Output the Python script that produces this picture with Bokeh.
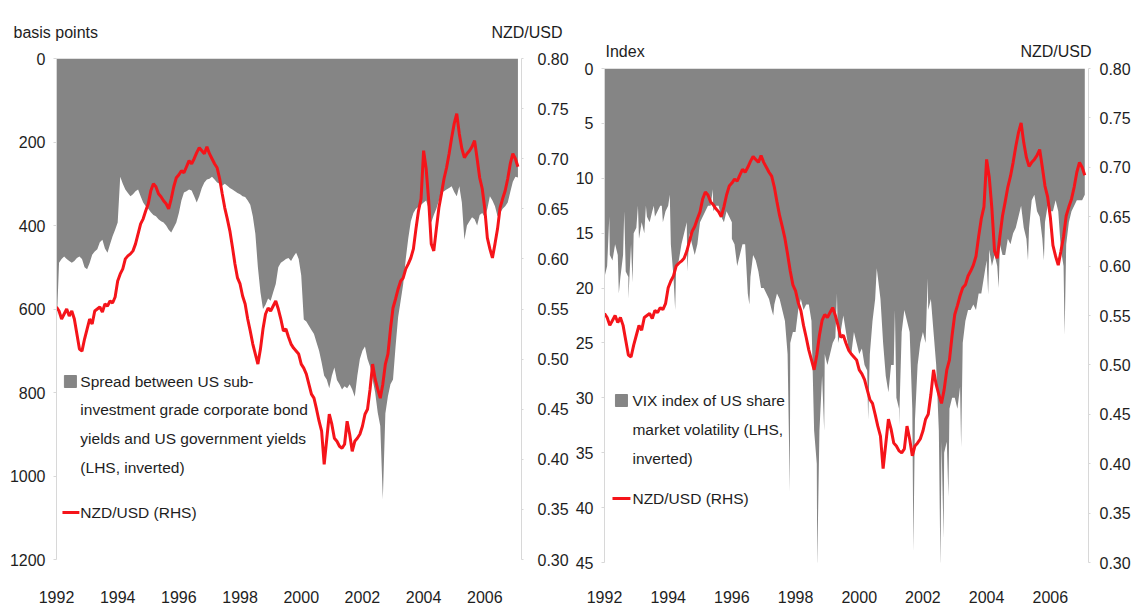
from bokeh.plotting import figure
from bokeh.models import Range1d, LinearAxis, FixedTicker, NumeralTickFormatter, Label, ColumnDataSource
from bokeh.layouts import row, column
from bokeh.core.properties import value
from bokeh.embed import file_html
from bokeh.resources import INLINE

FONT = "Liberation Sans"
FS = "16px"      # axis / unit labels
FSL = "15.5px"   # legend text
TXT = "#1e1e1e"
GRAY = "#858585"
RED = "#f5141a"
AX = "#d8d8d8"

# ---------------- data (monthly, Jan 1992 .. Feb 2007) ----------------
start_year = 1992
n_months = 182

nzd_usd = [
    0.552, 0.548, 0.540, 0.545, 0.550, 0.543, 0.548, 0.540, 0.525, 0.510, 0.508, 0.520,
    0.530, 0.540, 0.535, 0.548, 0.550, 0.552, 0.547, 0.555, 0.553, 0.558, 0.556, 0.562,
    0.578, 0.585, 0.590, 0.600, 0.603, 0.605, 0.608, 0.615, 0.625, 0.635, 0.640, 0.648,
    0.655, 0.668, 0.675, 0.672, 0.665, 0.662, 0.658, 0.655, 0.650, 0.660, 0.672, 0.681,
    0.684, 0.688, 0.686, 0.692, 0.698, 0.695, 0.700, 0.706, 0.711, 0.708, 0.705, 0.712,
    0.705, 0.700, 0.695, 0.691, 0.680, 0.665, 0.651, 0.640, 0.628, 0.612, 0.595, 0.581,
    0.575, 0.563, 0.555, 0.540, 0.528, 0.515, 0.505, 0.495, 0.510, 0.530, 0.545, 0.551,
    0.548, 0.553, 0.558, 0.550, 0.540, 0.528, 0.530, 0.522, 0.515, 0.511, 0.508, 0.505,
    0.495, 0.491, 0.485, 0.475, 0.465, 0.461, 0.450, 0.438, 0.428, 0.395, 0.420, 0.445,
    0.435, 0.421, 0.418, 0.413, 0.411, 0.415, 0.438, 0.425, 0.408, 0.418, 0.421, 0.425,
    0.433, 0.445, 0.450, 0.470, 0.495, 0.480, 0.470, 0.461, 0.475, 0.495, 0.505, 0.530,
    0.551, 0.560, 0.570, 0.578, 0.581, 0.590, 0.595, 0.601, 0.610, 0.630, 0.648, 0.660,
    0.708, 0.690, 0.658, 0.615, 0.608, 0.630, 0.651, 0.665, 0.680, 0.691, 0.705, 0.721,
    0.735, 0.745, 0.725, 0.710, 0.701, 0.705, 0.708, 0.712, 0.718, 0.700, 0.681, 0.670,
    0.650, 0.621, 0.610, 0.601, 0.615, 0.630, 0.651, 0.660, 0.668, 0.680, 0.695, 0.705,
    0.700, 0.692,
]

spread_bp = [
    650, 489, 480, 474, 480, 485, 489, 485, 478, 474, 480, 500,
    505, 490, 470, 462, 457, 440, 434, 455, 465, 445, 426, 410,
    393, 283, 300, 314, 322, 330, 325, 318, 314, 330, 345, 354,
    360, 368, 375, 378, 385, 390, 393, 400, 410, 417, 405, 393,
    370, 340, 321, 318, 314, 316, 330, 345, 330, 310, 297, 290,
    288, 283, 290, 297, 300, 305, 300, 305, 310, 314, 318, 322,
    325, 330, 332, 340, 350, 378, 420, 500, 560, 600, 590, 575,
    580, 560, 540, 500, 489, 485, 480, 478, 485, 474, 465, 480,
    520, 625, 630, 640, 650, 660, 680, 700, 728, 760, 769, 790,
    760, 740, 770, 780, 793, 785, 790, 780, 793, 810, 760, 720,
    700, 690, 720, 738, 769, 800, 848, 880, 1056, 850, 809, 780,
    769, 690, 620, 580, 540, 480, 430, 390, 370, 360, 355, 350,
    345, 340, 360, 393, 375, 360, 340, 321, 318, 314, 310, 306,
    320, 330, 306, 345, 434, 400, 390, 380, 385, 400, 375, 370,
    380, 360, 330, 340, 354, 378, 370, 360, 354, 345, 320, 295,
    283, 285,
]

vix_index = [
    19, 18, 17, 17.5, 16, 17, 19, 17, 18.5, 19, 16, 15,
    14.5, 15.5, 14, 15, 13.5, 14, 13, 13.5, 13, 12.5, 14, 13,
    12.5, 16, 19, 18, 17.5, 16, 15, 14, 15, 16, 17, 16,
    14, 13.5, 13, 12.5, 12.5, 13, 12.5, 12.5, 13.5, 14, 13, 13.5,
    15.5, 16, 18, 17, 16, 16, 20.5, 19, 17, 17.5, 18.5, 20,
    20, 20.5, 21, 22, 21.5, 20.5, 21, 22, 23, 26, 25, 24,
    24, 22, 21, 22, 21.5, 21.5, 23, 33, 36, 33, 28, 26,
    27, 26, 25, 24.5, 25, 24, 22.5, 24, 25.5, 26, 24, 25,
    26, 25.5, 27, 27.5, 26, 23, 21, 19, 21, 25, 28, 29.5,
    27, 27, 30, 31, 24, 22, 23, 24, 31, 32, 27, 25,
    24, 25, 22, 21, 24, 27, 33, 34, 35, 34, 31, 30,
    30, 31, 29, 25, 23, 22, 22, 21.5, 22, 20.5, 20.5, 19,
    17.5, 16.5, 18, 17, 18, 16, 17, 17, 15.5, 16, 15, 14.5,
    13.5, 12.5, 14.5, 15.5, 14.5, 12, 11.5, 13, 13.5, 15.5, 14, 12.5,
    13, 13, 12, 13, 16.5, 18, 16, 14, 13, 12.5, 12, 12,
    12, 11.5,
]

# individual daily extremes of the VIX, visible as thin spikes
vix_extreme_dates = [1992.15, 1992.45, 1992.62, 1992.75, 1992.88, 1993.05, 1993.30, 1993.55,
                     1993.80, 1994.05, 1994.22, 1994.60, 1995.40, 1996.00, 1996.55, 1997.30,
                     1997.82, 1998.68, 1998.90, 1999.30, 2000.28, 2000.55, 2001.12, 2001.25,
                     2001.70, 2002.15, 2002.55, 2002.65, 2002.80, 2003.20, 2004.05, 2004.38,
                     2005.30, 2005.80, 2006.45]
vix_extreme_values = [13.5, 20.5, 13, 21, 19.5, 12.5, 12.5, 12.5,
                      12.5, 11.5, 22, 18.5, 11, 14, 21.5, 22.5,
                      38.5, 45.5, 33, 20.5, 32, 18.2, 22, 32.5,
                      44, 19.1, 45.5, 42.8, 39, 34.5, 20.6, 20,
                      17.5, 17.5, 24.3]

year_ticks = [1992, 1994, 1996, 1998, 2000, 2002, 2004, 2006]
spread_ticks = [0, 200, 400, 600, 800, 1000, 1200]
vix_ticks = [0, 5, 10, 15, 20, 25, 30, 35, 40, 45]
nzd_ticks = [0.30, 0.35, 0.40, 0.45, 0.50, 0.55, 0.60, 0.65, 0.70, 0.75, 0.80]

months = [start_year + i / 12 for i in range(n_months)]

# merge monthly VIX with daily extremes
vix_pts = sorted(list(zip(months, vix_index)) + list(zip(vix_extreme_dates, vix_extreme_values)))
vix_x = [a for a, b in vix_pts]
vix_y = [b for a, b in vix_pts]

X0, X1 = 1992.0, 2007.2
PAGE_H = 613


def style_axes(p, left_ticks, xstand):
    p.xaxis.ticker = FixedTicker(ticks=year_ticks)
    p.xaxis.axis_line_color = None
    p.xaxis.major_tick_line_color = None
    p.xaxis.minor_tick_line_color = None
    p.xaxis.major_tick_out = 0
    p.xaxis.major_tick_in = 0
    p.xaxis.major_label_standoff = xstand
    p.yaxis.ticker = FixedTicker(ticks=left_ticks)
    p.yaxis.minor_tick_line_color = None
    p.yaxis.axis_line_color = AX
    p.yaxis.major_tick_line_color = AX
    p.yaxis.major_tick_out = 3
    p.yaxis.major_tick_in = 0
    p.yaxis.major_label_standoff = 8
    for ax in p.axis:
        ax.major_label_text_font = FONT
        ax.major_label_text_font_size = FS
        ax.major_label_text_color = TXT
    p.xgrid.visible = False
    p.ygrid.visible = False
    p.outline_line_color = None
    p.background_fill_color = "white"
    p.border_fill_color = "white"


def add_right_axis(p, standoff):
    p.extra_y_ranges = {"nzd": Range1d(0.30, 0.80)}
    ax = LinearAxis(y_range_name="nzd", ticker=FixedTicker(ticks=nzd_ticks),
                    formatter=NumeralTickFormatter(format="0.00"))
    ax.axis_line_color = AX
    ax.major_tick_line_color = AX
    ax.minor_tick_line_color = None
    ax.major_tick_out = 2
    ax.major_tick_in = 0
    ax.major_label_standoff = standoff
    ax.major_label_text_font = FONT
    ax.major_label_text_font_size = FS
    ax.major_label_text_color = TXT
    p.add_layout(ax, "right")


def lab(p, x, y, text, align="left"):
    p.add_layout(Label(x=x, y=y, text=text, text_font=FONT, text_font_size=FSL,
                       text_color=TXT, text_align=align, text_baseline="middle"))


def header(width, height, items):
    # a strip above a panel carrying the unit labels (coordinates in pixels)
    h = figure(width=width, height=height, x_range=Range1d(0, width), y_range=Range1d(height, 0),
               output_backend="svg", toolbar_location=None, min_border=0,
               x_axis_location=None, y_axis_location=None, frame_align=False)
    h.xgrid.visible = False
    h.ygrid.visible = False
    h.outline_line_color = None
    src = ColumnDataSource(dict(x=[i[0] for i in items], y=[i[1] for i in items],
                                t=[i[2] for i in items], a=[i[3] for i in items]))
    h.text(x="x", y="y", text="t", text_align="a", source=src, text_font=value(FONT),
           text_font_size=FS, text_color=TXT, text_baseline="middle")
    return h


# ---------------- left panel ----------------
W1 = 571
H1 = 45                                   # header strip (page y 0..45)
L_LEFT, L_FW = 56, 468
L_TOP, L_FH = 58 - H1, 501                # frame page y 58..559
p1_h = PAGE_H - H1
p1 = figure(width=W1, height=p1_h, x_range=Range1d(X0, X1), y_range=Range1d(1200, 0),
            output_backend="svg", toolbar_location=None, frame_align=False,
            min_border_left=L_LEFT, min_border_right=W1 - L_LEFT - L_FW,
            min_border_top=L_TOP, min_border_bottom=p1_h - L_TOP - L_FH)
style_axes(p1, spread_ticks, 31)
add_right_axis(p1, 14)

src1 = ColumnDataSource(dict(x=months, spread=spread_bp, nzd=nzd_usd))
p1.varea(x="x", y1=0, y2="spread", source=src1, fill_color=GRAY, fill_alpha=1)
p1.line(x="x", y="nzd", source=src1, y_range_name="nzd", line_color=RED, line_width=3)


def lx(px):
    return X0 + (px - L_LEFT) / L_FW * (X1 - X0)


def ly(py):
    return (py - H1 - L_TOP) / L_FH * 1200


p1.scatter(x=[lx(70)], y=[ly(381)], marker="square", size=12, color=GRAY)
for text, py in [("Spread between US sub-", 381), ("investment grade corporate bond", 409),
                 ("yields and US government yields", 438), ("(LHS, inverted)", 467)]:
    lab(p1, lx(80), ly(py), text)
p1.segment(x0=[lx(62)], y0=[ly(512)], x1=[lx(79)], y1=[ly(512)], line_color=RED, line_width=3)
lab(p1, lx(80), ly(512), "NZD/USD (RHS)")

h1 = header(W1, H1, [(13, 32, "basis points", "left"), (562, 32, "NZD/USD", "right")])

# ---------------- right panel ----------------
W2 = 562
H2 = 60                                   # header strip (page y 0..60)
R_LEFT, R_FW = 33, 485                    # frame page x 604..1089
R_TOP, R_FH = 68 - H2, 494                # frame page y 68..562
p2_h = PAGE_H - H2
p2 = figure(width=W2, height=p2_h, x_range=Range1d(X0, X1), y_range=Range1d(45, 0),
            output_backend="svg", toolbar_location=None, frame_align=False,
            min_border_left=R_LEFT, min_border_right=W2 - R_LEFT - R_FW,
            min_border_top=R_TOP, min_border_bottom=p2_h - R_TOP - R_FH)
style_axes(p2, vix_ticks, 28)
add_right_axis(p2, 9)

src2 = ColumnDataSource(dict(x=vix_x, vix=vix_y))
p2.varea(x="x", y1=0, y2="vix", source=src2, fill_color=GRAY, fill_alpha=1)
p2.line(x=months, y=nzd_usd, y_range_name="nzd", line_color=RED, line_width=3)


def rx(px):
    return X0 + (px - W1 - R_LEFT) / R_FW * (X1 - X0)


def ry(py):
    return (py - H2 - R_TOP) / R_FH * 45


p2.scatter(x=[rx(621)], y=[ry(400)], marker="square", size=12, color=GRAY)
for text, py in [("VIX index of US share", 400), ("market volatility (LHS,", 429), ("inverted)", 458)]:
    lab(p2, rx(632), ry(py), text)
p2.segment(x0=[rx(612)], y0=[ry(498)], x1=[rx(630)], y1=[ry(498)], line_color=RED, line_width=3)
lab(p2, rx(632), ry(498), "NZD/USD (RHS)")

h2 = header(W2, H2, [(605 - W1, 51, "Index", "left"), (1091 - W1, 51, "NZD/USD", "right")])

layout = row(column(h1, p1), column(h2, p2))
open("out.html", "w").write(file_html(layout, INLINE))
